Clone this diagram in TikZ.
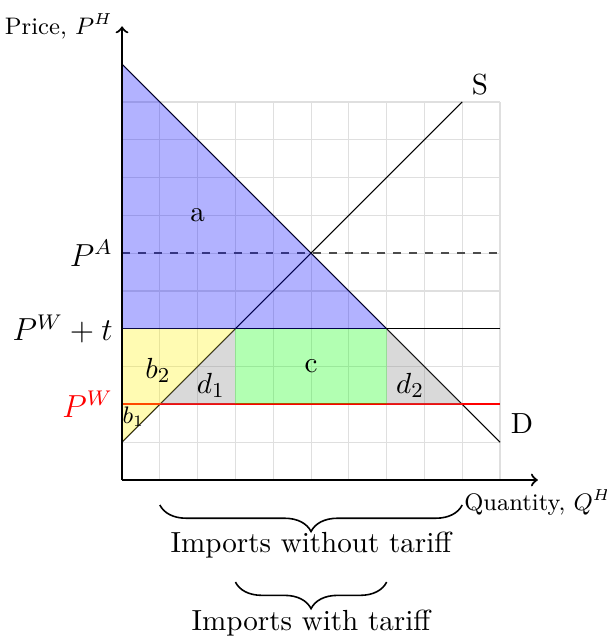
\documentclass[tikz,border=0pt]{standalone}
\usetikzlibrary{decorations.pathreplacing}
\newcommand\nsz{\fontsize{10.95}{13.6}\selectfont}
\newcommand\lsz{\fontsize{12}{14.5}\selectfont}
\newcommand\fsz{\fontsize{9}{11}\selectfont}
\begin{document}
\begin{tikzpicture}[x=0.5cm,y=0.5cm,
  gridline/.style={draw=gray!25, line width=0.4pt},
  curve/.style={draw=black, line width=0.4pt},
  region/.style={fill opacity=0.3},
  axis/.style={thick,->},
  lbl/.style={font=\nsz},
  biglbl/.style={font=\lsz, anchor=east},
  smalllbl/.style={font=\fsz},
  bracestyle/.style={decorate, decoration={brace, mirror, amplitude=10pt}, semithick}]
\useasboundingbox (-3.228,-4.153) rectangle (12.804,12.698);
% coordinates
\coordinate (O) at (0,0);
\coordinate (Dtop) at (0,11);
\coordinate (Dbot) at (10,1);
\coordinate (Sbot) at (0,1);
\coordinate (Stop) at (9,10);
\coordinate (PA0) at (0,6);
\coordinate (PA1) at (10,6);
\coordinate (PT0) at (0,4);
\coordinate (PT1) at (10,4);
\coordinate (PW0) at (0,2);
\coordinate (PW1) at (10,2);
\coordinate (Q3) at (3,4);
\coordinate (Q7) at (7,4);
\coordinate (R1) at (1,2);
\coordinate (R3) at (3,2);
\coordinate (R7) at (7,2);
\coordinate (R9) at (9,2);
\coordinate (Ytip) at (0,12);
\coordinate (Xtip) at (11,0);
\coordinate (B1a) at (1,-0.66);
\coordinate (B1b) at (9,-0.66);
\coordinate (B2a) at (3,-2.70);
\coordinate (B2b) at (7,-2.70);
% grid
\draw[gridline, step=0.5cm] (0,0) grid (10,10);
% curves and price lines
\draw[curve] (Dtop) -- (Dbot);
\draw[curve] (Sbot) -- (Stop);
\draw[dashed, black!70, line width=0.6pt] (PA0) -- (PA1);
\draw[curve] (PT0) -- (PT1);
\draw[red, thick] (PW0) -- (PW1);
% regions
\fill[region, blue] (PT0) -- (Dtop) -- (Q7) -- cycle;
\fill[region, yellow] (Sbot) -- (PT0) -- (Q3) -- cycle;
\fill[region, gray] (R1) -- (Q3) -- (R3) -- cycle;
\fill[region, green] (R3) rectangle (Q7);
\fill[region, gray] (Q7) -- (R7) -- (R9) -- cycle;
% axes
\draw[axis] (O) -- (Ytip);
\draw[axis] (O) -- (Xtip);
\node[smalllbl, left] (ylab) at (Ytip) {Price, $P^H$};
\node[smalllbl, below] (xlab) at (Xtip) {Quantity, $Q^H$};
% price labels
\node[biglbl] (lPA) at (0,6) {$P^A$};
\node[biglbl] (lPT) at (0,4) {$P^W + t$};
\node[biglbl, text=red] (lPW) at (0,2) {$P^W$};
% curve labels
\node[lbl] (lS) at (9.47,10.45) {S};
\node[lbl] (lD) at (10.58,1.5) {D};
% area labels
\node[lbl] (la) at (2,7) {a};
\node[lbl] (lb2) at (0.95,2.9) {$b_2$};
\node[smalllbl] (lb1) at (0.3,1.68) {$b_1$};
\node[lbl] (ld1) at (2.35,2.5) {$d_1$};
\node[lbl] (lc) at (5,3) {c};
\node[lbl] (ld2) at (7.62,2.5) {$d_2$};
% braces
\draw[bracestyle] (B1a) -- (B1b);
\draw[bracestyle] (B2a) -- (B2b);
\node[lbl, anchor=base] (t1) at (5,-1.905) {Imports without tariff};
\node[lbl, anchor=base] (t2) at (5,-3.97) {Imports with tariff};
\end{tikzpicture}
\end{document}
